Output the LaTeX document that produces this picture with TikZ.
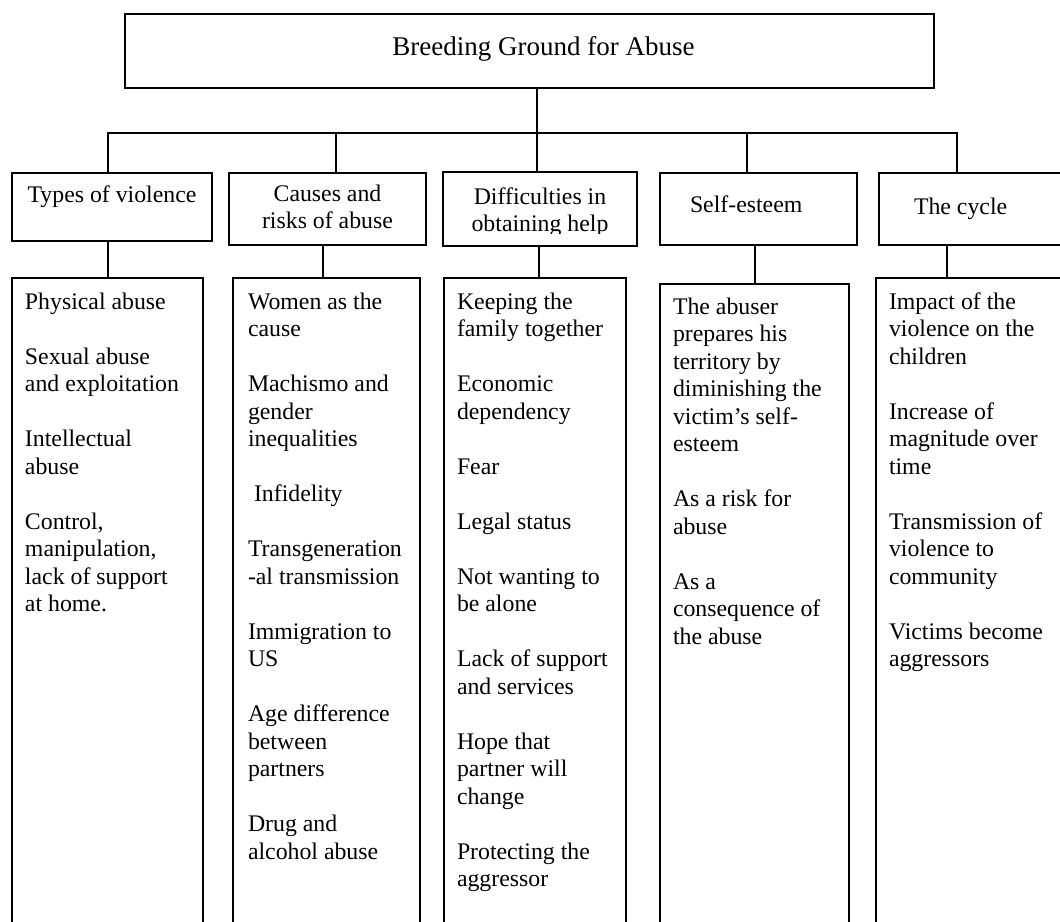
\documentclass[tikz,border=0pt]{standalone}
\usepackage{fontspec}
\setmainfont{Liberation Serif}

\newcommand{\bodyfont}{\fontsize{23.8}{27.5}\selectfont}
\newcommand{\titlefont}{\fontsize{27}{31}\selectfont}
\newcommand{\inbox}[3]{\parbox[t][#2pt][t]{#1pt}{#3}}
\newcommand{\lead}[1]{\rule{0pt}{#1pt}}
\newcommand{\gap}{\\[27.5pt]}
\newcommand{\listtext}[1]{\raggedright\leftskip=#1pt\relax}

\tikzset{
  conn/.style={line width=2pt, line cap=rect},
  titlebox/.style={draw, line width=2pt, anchor=north west,
    inner sep=0pt, font=\titlefont},
  catbox/.style={draw, line width=2pt, anchor=north west,
    inner sep=0pt, font=\bodyfont},
  listbox/.style={catbox}
}

\begin{document}
\begin{tikzpicture}[x=1pt, y=-1pt]
    \useasboundingbox (0,0) rectangle (1060,921);
    \clip (0,0) rectangle (1060,921);

    % top of the tree
    \node[titlebox] (title) at (124,13)
      {\inbox{809}{74}{\centering\lead{41}\hspace*{28pt}Breeding Ground for Abuse}};

    % the five headings
    \node[catbox] (cat1) at (11,172)
      {\inbox{200}{68}{\centering\lead{29}Types of violence}};
    \node[catbox] (cat2) at (228,172)
      {\inbox{197}{72}{\centering\lead{28}Causes and\\risks of abuse}};
    \node[catbox, draw=none] (cat3) at (443,172)
      {\inbox{192}{72}{\centering\lead{31}Difficulties in\\obtaining help}};
    \fill[white] ([yshift=1pt]cat3.south west)
      rectangle ([yshift=12pt]cat3.south east);
    \draw[line width=2pt] (cat3.south west) rectangle (cat3.north east);
    \node[catbox] (cat4) at (659,172)
      {\inbox{197}{72}{\listtext{30}\lead{39}Self-esteem}};
    \node[catbox] (cat5) at (878,172)
      {\inbox{220}{72}{\listtext{35}\lead{41}The cycle}};

    % the lists below them
    \node[listbox] (list1) at (11,277)
      {\inbox{191}{660}{\listtext{13}\lead{31}Physical abuse\gap
        Sexual abuse\\and exploitation\gap
        Intellectual\\abuse\gap
        Control,\\manipulation,\\lack of support\\at home.}};
    \node[listbox] (list2) at (232,277)
      {\inbox{187}{660}{\listtext{15}\lead{31}Women as the\\cause\gap
        Machismo and\\gender\\inequalities\gap
        \hspace*{6pt}Infidelity\gap
        Transgeneration\\-al transmission\gap
        Immigration to\\US\gap
        Age difference\\between\\partners\gap
        Drug and\\alcohol abuse}};
    \node[listbox] (list3) at (443,277)
      {\inbox{182}{660}{\listtext{13}\lead{31}Keeping the\\family together\gap
        Economic\\dependency\gap
        Fear\gap
        Legal status\gap
        Not wanting to\\be alone\gap
        Lack of support\\and services\gap
        Hope that\\partner will\\change\gap
        Protecting the\\aggressor}};
    \node[listbox] (list4) at (659,283)
      {\inbox{189}{660}{\listtext{13}\lead{30}The abuser\\prepares his\\territory by\\diminishing the\\victim's self-\\esteem\gap
        As a risk for\\abuse\gap
        As a\\consequence of\\the abuse}};
    \node[listbox] (list5) at (875,277)
      {\inbox{220}{660}{\listtext{13}\lead{31}Impact of the\\violence on the\\children\gap
        Increase of\\magnitude over\\time\gap
        Transmission of\\violence to\\community\gap
        Victims become\\aggressors}};

    % connectors
    \foreach \i/\xa/\xb in {1/108/108, 2/336/323, 3/537/539, 4/747/755, 5/957/947} {
      \coordinate (top\i) at (\xa,133);
      \coordinate (mid\i) at (\xb,0);
    }
    \draw[conn] (top1) -- (top5);
    \draw[conn] (title.south -| top3) -- (top3);
    \foreach \i in {1,...,5} {
      \draw[conn] (top\i) -- (top\i |- cat\i.north);
      \draw[conn] (cat\i.south -| mid\i) -- (list\i.north -| mid\i);
    }
\end{tikzpicture}
\end{document}
